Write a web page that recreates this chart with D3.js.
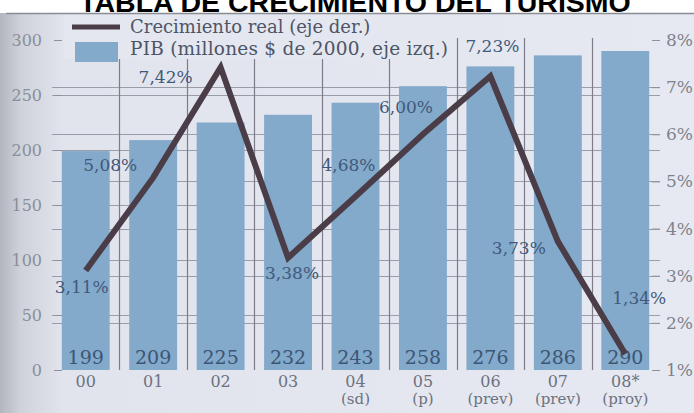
<!DOCTYPE html>
<html>
<head>
<meta charset="utf-8">
<script src="https://cdn.jsdelivr.net/npm/d3@7"></script>
<style>
  body { margin: 0; background: #ffffff; }
  svg { display: block; }
</style>
</head>
<body>
<svg id="chart" width="694" height="413"></svg>
<script>
// Years on the category axis, with the note printed under each one
const years = ["00", "01", "02", "03", "04", "05", "06", "07", "08*"];
const yearNotes = ["", "", "", "", "(sd)", "(p)", "(prev)", "(prev)", "(proy)"];

// PIB turístico, millones de $ de 2000 (left axis, bars)
const pib = [199, 209, 225, 232, 243, 258, 276, 286, 290];

// Crecimiento real, % (right axis, line)
const growth = [3.11, 5.08, 7.42, 3.38, 4.68, 6.00, 7.23, 3.73, 1.34];

// Axis tick values
const leftTicks = [0, 50, 100, 150, 200, 250, 300];
const rightTicks = [1, 2, 3, 4, 5, 6, 7, 8];

// Where each growth label sits relative to its point (dx, dy)
const labelOffsets = [[-4, 17], [-43, -13], [-55, 10], [4, 15], [-7, -31], [-17, -27], [2, -30], [-39, 7], [14, -56]];

const W = 694, H = 413;
const barColor = "#83a9cb";
const lineColor = "#4a3d48";
const gridColor = "#9a9ca8";
const serif = "'DejaVu Serif', serif";

const svg = d3.select("#chart");

const fmtPct = v => d3.format(".2f")(v).replace(".", ",") + "%";

// Scales
const x = d3.scaleBand().domain(years).range([52, 659]).paddingInner(0.29).paddingOuter(0.145);
const yL = d3.scaleLinear().domain([0, 300]).range([370, 40]);
const yR = d3.scaleLinear().domain([1, 8]).range([370, 40]);

// Panel background
const defs = svg.append("defs");
const grad = defs.append("linearGradient").attr("id", "edge").attr("x1", 0).attr("x2", 1).attr("y1", 0).attr("y2", 0);
grad.append("stop").attr("offset", "0").attr("stop-color", "#b3b6bf");
grad.append("stop").attr("offset", "0.03").attr("stop-color", "#cfd2da");
grad.append("stop").attr("offset", "0.09").attr("stop-color", "#e1e4ec");
grad.append("stop").attr("offset", "1").attr("stop-color", "#e6e9f1");
svg.append("rect").attr("x", 0).attr("y", 13).attr("width", W).attr("height", H - 13).attr("fill", "url(#edge)");
svg.append("line").attr("x1", 6).attr("x2", W).attr("y1", 13.5).attr("y2", 13.5)
  .attr("stroke", "#8a8c94").attr("stroke-width", 1.5);

// Horizontal grid for both axes (behind the bars)
const grid = svg.append("g");
grid.selectAll("line.gl").data(leftTicks.filter(d => d > 0 && d < 300)).join("line")
  .attr("class", "gl")
  .attr("x1", 52).attr("x2", 660)
  .attr("y1", d => Math.round(yL(d)) + 0.5).attr("y2", d => Math.round(yL(d)) + 0.5)
  .attr("stroke", gridColor).attr("stroke-width", 1);
grid.selectAll("line.gr").data(rightTicks.filter(d => d > 1 && d < 8)).join("line")
  .attr("class", "gr")
  .attr("x1", 52).attr("x2", 660)
  .attr("y1", d => Math.round(yR(d)) + 0.5).attr("y2", d => Math.round(yR(d)) + 0.5)
  .attr("stroke", gridColor).attr("stroke-width", 1);

// Vertical separators between the bars
const step = x.step();
const seps = years.slice(0, -1).map(d => x(d) + x.bandwidth() + (step - x.bandwidth()) / 2);
grid.selectAll("line.sep").data(seps).join("line")
  .attr("class", "sep")
  .attr("x1", d => Math.round(d) + 0.5).attr("x2", d => Math.round(d) + 0.5)
  .attr("y1", 38).attr("y2", 370)
  .attr("stroke", "#7d7c88").attr("stroke-width", 1.2);

// Bars
svg.append("g").selectAll("rect").data(pib).join("rect")
  .attr("x", (d, i) => x(years[i]))
  .attr("y", d => yL(d))
  .attr("width", x.bandwidth())
  .attr("height", d => yL(0) - yL(d))
  .attr("fill", barColor);

// Bar values at the foot of each bar
svg.append("g").selectAll("text").data(pib).join("text")
  .attr("x", (d, i) => x(years[i]) + x.bandwidth() / 2)
  .attr("y", 364)
  .attr("text-anchor", "middle")
  .attr("font-family", serif).attr("font-size", 19)
  .attr("fill", "#3c5675")
  .text(d => d);

// Left axis
const leftAxis = d3.axisLeft(yL).tickValues(leftTicks).tickSize(8).tickPadding(12);
const gL = svg.append("g").attr("transform", "translate(62,0)").call(leftAxis);
gL.select(".domain").remove();
gL.selectAll(".tick line").attr("stroke", "#8e909a");
gL.selectAll(".tick text").attr("font-family", serif).attr("font-size", 16).attr("fill", "#8a8e98");

// Right axis
const rightAxis = d3.axisRight(yR).tickValues(rightTicks).tickSize(8).tickPadding(6).tickFormat(d => d + "%");
const gR = svg.append("g").attr("transform", "translate(652,0)").call(rightAxis);
gR.select(".domain").remove();
gR.selectAll(".tick line").attr("stroke", "#8e909a");
gR.selectAll(".tick text").attr("font-family", serif).attr("font-size", 17).attr("fill", "#7e828c");

// Category labels
const cats = svg.append("g");
cats.selectAll("text.yr").data(years).join("text")
  .attr("class", "yr")
  .attr("x", d => x(d) + x.bandwidth() / 2).attr("y", 387)
  .attr("text-anchor", "middle")
  .attr("font-family", serif).attr("font-size", 16).attr("fill", "#6d7280")
  .text(d => d);
cats.selectAll("text.note").data(yearNotes).join("text")
  .attr("class", "note")
  .attr("x", (d, i) => x(years[i]) + x.bandwidth() / 2).attr("y", 404)
  .attr("text-anchor", "middle")
  .attr("font-family", serif).attr("font-size", 15).attr("fill", "#6d7280")
  .text(d => d);

// Growth line
const line = d3.line()
  .x((d, i) => x(years[i]) + x.bandwidth() / 2)
  .y(d => yR(d));
svg.append("path").datum(growth)
  .attr("d", line)
  .attr("fill", "none")
  .attr("stroke", lineColor)
  .attr("stroke-width", 6)
  .attr("stroke-linejoin", "miter");

// Growth labels
svg.append("g").selectAll("text").data(growth).join("text")
  .attr("x", (d, i) => x(years[i]) + x.bandwidth() / 2 + labelOffsets[i][0])
  .attr("y", (d, i) => yR(d) + labelOffsets[i][1])
  .attr("dy", "0.35em")
  .attr("text-anchor", "middle")
  .attr("font-family", serif).attr("font-size", 17)
  .attr("fill", "#41597a")
  .text(d => fmtPct(d));

// Legend
const lg = svg.append("g");
lg.append("rect").attr("x", 64).attr("y", 15).attr("width", 392).attr("height", 44).attr("fill", "#e4e7ef");
lg.append("line").attr("x1", 72).attr("x2", 120).attr("y1", 27).attr("y2", 27)
  .attr("stroke", lineColor).attr("stroke-width", 5);
lg.append("rect").attr("x", 75).attr("y", 42).attr("width", 43).attr("height", 20).attr("fill", barColor);
lg.append("text").attr("x", 130).attr("y", 33)
  .attr("font-family", serif).attr("font-size", 18).attr("fill", "#4e5566")
  .text("Crecimiento real (eje der.)");
lg.append("text").attr("x", 130).attr("y", 55)
  .attr("font-family", serif).attr("font-size", 18.5).attr("fill", "#4e5566")
  .attr("textLength", 318).attr("lengthAdjust", "spacing")
  .text("PIB (millones $ de 2000, eje izq.)");

// Title
svg.append("text").attr("x", 355).attr("y", 11.5)
  .attr("text-anchor", "middle")
  .attr("font-family", "'Liberation Sans', Arial, sans-serif").attr("font-weight", 700)
  .attr("font-size", 28.5).attr("fill", "#000")
  .text("TABLA DE CRECIMIENTO DEL TURISMO");
</script>
</body>
</html>
